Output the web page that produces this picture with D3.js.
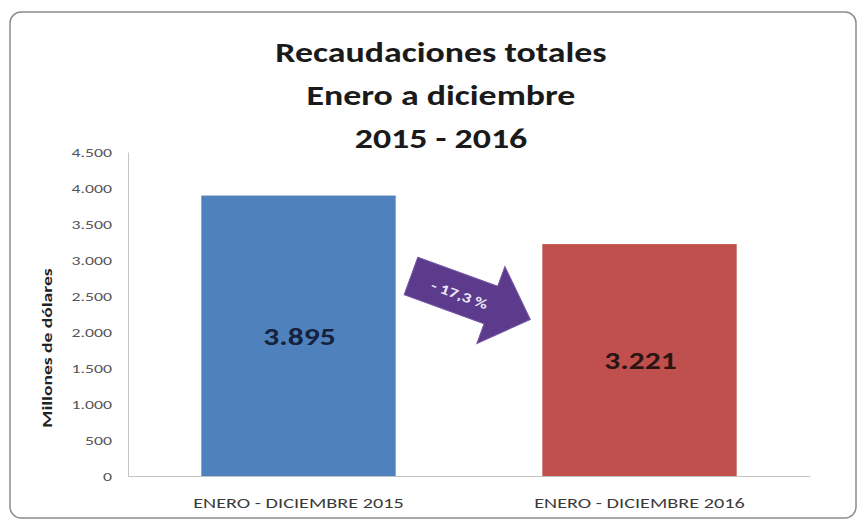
<!DOCTYPE html>
<html><head><meta charset="utf-8">
<script src="https://cdn.jsdelivr.net/npm/d3@7"></script>
<style>
body{margin:0;background:#fff;}
text{font-family:Carlito, Lato, "Open Sans", sans-serif;}
</style></head>
<body>
<svg id="c" width="859" height="523"></svg>
<script>
const categories = ["ENERO - DICIEMBRE 2015", "ENERO - DICIEMBRE 2016"];
const values = [3895, 3221];
const valueLabels = ["3.895", "3.221"];
const barColors = ["#4f81bd", "#c0504d"];
const labelColors = ["#15223e", "#2a1414"];
const yTicks = [0, 500, 1000, 1500, 2000, 2500, 3000, 3500, 4000, 4500];
const titleLines = ["Recaudaciones totales", "Enero a diciembre", "2015 - 2016"];
const yTitle = "Millones de dólares";
const changeLabel = "- 17,3 %";

const svg = d3.select("#c");
// widen text glyphs horizontally (reference font is wider than available fonts)
function widen(sel, f){
  sel.each(function(){
    const w = this.getComputedTextLength();
    d3.select(this).attr("textLength", w*f).attr("lengthAdjust","spacingAndGlyphs");
  });
}

// frame
svg.append("rect").attr("x",10).attr("y",12).attr("width",846).attr("height",506)
  .attr("rx",11).attr("fill","#fff").attr("stroke","#8c8c8c").attr("stroke-width",1.5);

const pL=128, pR=810, pT=152, pB=476;
const x = d3.scaleBand().domain(categories).range([pL,pR]).paddingInner(0.43).paddingOuter(0.215);
const y = d3.scaleLinear().domain([0,4500]).range([pB,pT]);

// title
const tt = svg.append("g").selectAll("text").data(titleLines).join("text")
  .attr("x",441).attr("y",(d,i)=>62+i*43).attr("text-anchor","middle")
  .attr("font-size",28).attr("font-weight","bold").attr("fill","#1a1a1a").text(d=>d);
widen(tt,1.28);

// y axis
const ya = svg.append("g").attr("transform",`translate(${pL},0)`)
  .call(d3.axisLeft(y).tickValues(yTicks).tickSize(0).tickPadding(16)
    .tickFormat(d=>d3.format(",")(d).replace(/,/g,".")));
ya.select(".domain").attr("stroke","#c4c4c4");
ya.selectAll("text").attr("font-size",12.5).attr("fill","#555").style("font-family","Carlito, Lato, sans-serif");
widen(ya.selectAll("text"),1.42);

const yt = svg.append("text").attr("transform","translate(52,348) rotate(-90)").attr("text-anchor","middle")
  .attr("font-size",14.5).attr("font-weight","bold").attr("fill","#222").text(yTitle);
widen(yt,1.35);

// bars
svg.append("g").selectAll("rect").data(values).join("rect")
  .attr("x",(d,i)=>x(categories[i])).attr("width",x.bandwidth())
  .attr("y",d=>y(d)).attr("height",d=>pB-y(d)).attr("fill",(d,i)=>barColors[i]);

// x axis
const xa = svg.append("g").attr("transform",`translate(0,${pB})`)
  .call(d3.axisBottom(x).tickSize(0).tickPadding(21));
xa.select(".domain").attr("stroke","#c4c4c4");
xa.selectAll("text").attr("font-size",15).attr("fill","#3a3a3a").style("font-family","Carlito, Lato, sans-serif");
widen(xa.selectAll("text"),1.35);

// value labels
const vl = svg.append("g").selectAll("text").data(values).join("text")
  .attr("x",(d,i)=>x(categories[i])+x.bandwidth()/2+1)
  .attr("y",d=>y(d/2)+9)
  .attr("text-anchor","middle").attr("font-size",25).attr("font-weight","bold")
  .attr("fill",(d,i)=>labelColors[i])
  .text((d,i)=>valueLabels[i]);
widen(vl,1.26);

// arrow
const ag = svg.append("g").attr("transform","translate(411,276) rotate(20)");
ag.append("path").attr("d","M0,-20 L85,-20 L85,-41 L127,0 L85,41 L85,20 L0,20 Z")
  .attr("fill","#5c3b8c").attr("stroke","#7457a3").attr("stroke-width",1);
const at = ag.append("text").attr("x",52).attr("y",6).attr("text-anchor","middle")
  .attr("font-size",14).attr("font-weight","bold").attr("fill","#ece6f6").text(changeLabel);
widen(at,1.3);
</script>
</body></html>
